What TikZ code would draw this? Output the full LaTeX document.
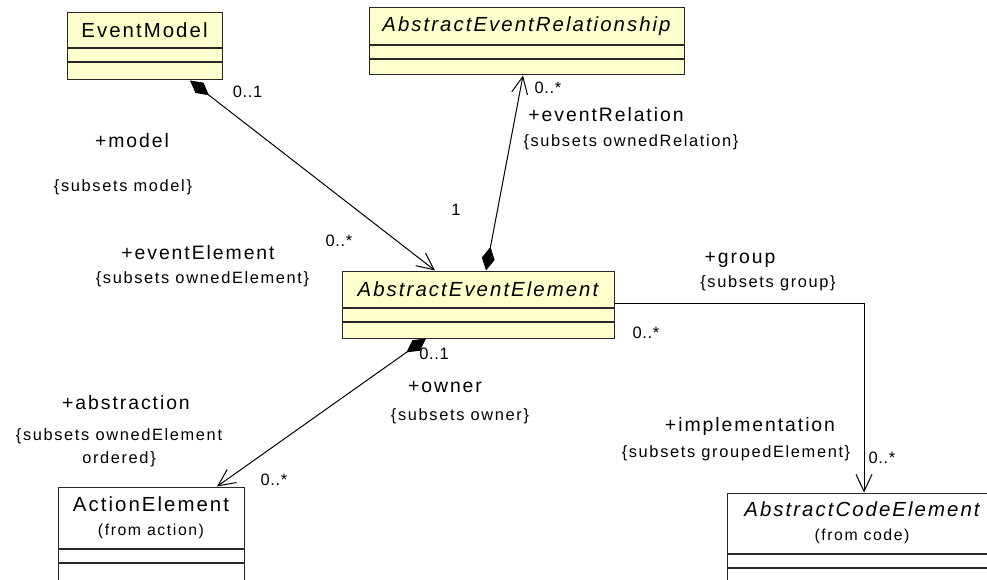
\documentclass[tikz,border=0pt]{standalone}
\usepackage{fontspec}
\setmainfont{Liberation Sans}[LetterSpace=10]
\newfontfamily\multfont{Liberation Sans}[LetterSpace=4]
\usetikzlibrary{positioning,arrows.meta}
\definecolor{ClassFill}{RGB}{255,255,204}
\definecolor{ClassLine}{RGB}{40,40,40}
\tikzset{
  assoc/.style={-{Straight Barb[length=17pt,width=16pt]},line width=1pt},
  owned/.style={{Diamond[length=24pt,width=13pt]}-{Straight Barb[length=17pt,width=16pt]},line width=1pt},
  classname/.style={draw=ClassLine,line width=1pt,inner sep=0pt,align=center,
    font=\fontsize{20.4}{24}\selectfont},
  compart/.style={draw=ClassLine,line width=1pt,inner sep=0pt},
  role/.style={inner sep=0pt,font=\fontsize{19.4}{22}\selectfont},
  constraint/.style={inner sep=0pt,align=center,font=\fontsize{16.4}{23}\selectfont},
  mult/.style={inner sep=0pt,font=\multfont\fontsize{16.5}{20}\selectfont}
}

\begin{document}
\begin{tikzpicture}[x=1pt,y=-1pt]
  \clip (0,0) rectangle (987,580);
  \fill[white] (0,0) rectangle (987,580);

  % classes
  \node[classname,fill=ClassFill,minimum width=155pt,minimum height=35pt] (model) at (144.5,30.5) {EventModel};
  \node[compart,fill=ClassFill,minimum width=155pt,minimum height=13pt,below=0pt of model] (modelA) {};
  \node[compart,fill=ClassFill,minimum width=155pt,minimum height=17pt,below=0pt of modelA] (modelB) {};

  \node[classname,fill=ClassFill,minimum width=315pt,minimum height=37pt] (rel) at (526.5,26.5) {\itshape AbstractEventRelationship};
  \node[compart,fill=ClassFill,minimum width=315pt,minimum height=13pt,below=0pt of rel] (relA) {};
  \node[compart,fill=ClassFill,minimum width=315pt,minimum height=15pt,below=0pt of relA] (relB) {};

  \node[classname,fill=ClassFill,minimum width=272pt,minimum height=36pt] (elem) at (478,289) {\itshape AbstractEventElement};
  \node[compart,fill=ClassFill,minimum width=272pt,minimum height=13pt,below=0pt of elem] (elemA) {};
  \node[compart,fill=ClassFill,minimum width=272pt,minimum height=16pt,below=0pt of elemA] (elemB) {};

  \node[classname,minimum width=186pt,minimum height=61pt] (action) at (151,517.5)
    {ActionElement\\{\fontsize{15.8}{18}\selectfont(from action)}};
  \node[compart,minimum width=186pt,minimum height=13pt,below=0pt of action] (actionA) {};
  \node[compart,minimum width=186pt,minimum height=18pt,below=0pt of actionA] (actionB) {};

  \node[classname,minimum width=270pt,minimum height=60pt] (code) at (862,523)
    {{\itshape AbstractCodeElement}\\{\fontsize{15.8}{18}\selectfont(from code)}};
  \node[compart,minimum width=270pt,minimum height=13pt,below=0pt of code] (codeA) {};
  \node[compart,minimum width=270pt,minimum height=18pt,below=0pt of codeA] (codeB) {};

  % associations
  \draw[owned] ([xshift=45.5pt]modelB.south) -- ([xshift=-43pt]elem.north);
  \draw[owned] ([xshift=8pt]elem.north) -- ([xshift=-3.5pt]relB.south);
  \draw[owned] ([xshift=-52pt]elemB.south) -- ([xshift=66pt]action.north);
  \draw[assoc] ([yshift=-14pt]elem.east) -| ([xshift=2pt]code.north);

  % role names and multiplicities
  \node[mult] (mModel) at (247.5,92) {0..1};
  \node[role] (rModel) at (132,141) {+model};
  \node[constraint] (cModel) at (123,187) {\{subsets model\}};
  \node[mult] (mEventElem) at (339,241) {0..*};
  \node[role] (rEventElem) at (198,253) {+eventElement};
  \node[constraint] (cEventElem) at (202.5,279) {\{subsets ownedElement\}};

  \node[mult] (mRelOwner) at (456,210) {1};
  \node[mult] (mRel) at (548,88) {0..*};
  \node[role] (rRel) at (606,115) {+eventRelation};
  \node[constraint] (cRel) at (631,142) {\{subsets ownedRelation\}};

  \node[mult] (mOwner) at (434,354) {0..1};
  \node[role] (rOwner) at (445,387) {+owner};
  \node[constraint] (cOwner) at (460,416) {\{subsets owner\}};
  \node[role] (rAbstr) at (126,403) {+abstraction};
  \node[constraint] (cAbstr) at (119,448) {\{subsets ownedElement\\ordered\}};
  \node[mult] (mAbstr) at (274,480) {0..*};

  \node[role] (rGroup) at (740,260) {+group};
  \node[constraint] (cGroup) at (768,283) {\{subsets group\}};
  \node[mult] (mGroup) at (646,333) {0..*};
  \node[role] (rImpl) at (750,426) {+implementation};
  \node[constraint] (cImpl) at (736,453) {\{subsets groupedElement\}};
  \node[mult] (mImpl) at (882,458) {0..*};
\end{tikzpicture}
\end{document}
